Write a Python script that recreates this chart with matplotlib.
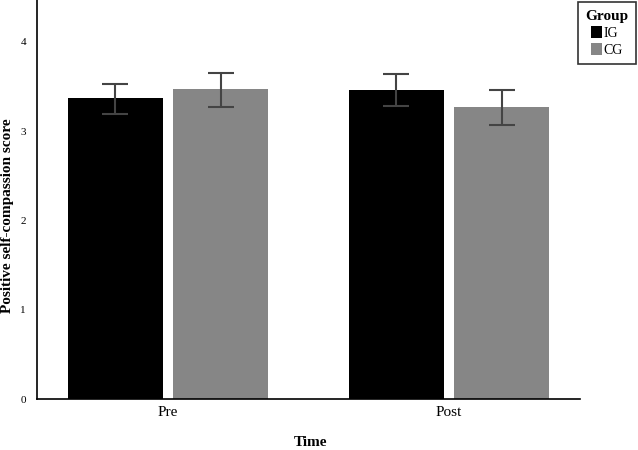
import matplotlib.pyplot as plt
import numpy as np

plt.rcParams['font.family'] = ['Liberation Serif', 'DejaVu Serif']

times = ['Pre', 'Post']
groups = ['IG', 'CG']
means = {'IG': [3.37, 3.46], 'CG': [3.47, 3.27]}
lower = {'IG': [3.19, 3.28], 'CG': [3.27, 3.07]}
upper = {'IG': [3.53, 3.64], 'CG': [3.65, 3.46]}
colors = {'IG': '#000000', 'CG': '#868686'}

fig = plt.figure(figsize=(6.38, 4.5), dpi=100)
ax = fig.add_axes([0.058, 0.1133, 0.851, 0.8867])

x = np.arange(len(times))
w = 0.338
gap = 0.036
offsets = {'IG': -(w + gap) / 2, 'CG': (w + gap) / 2}
for g in groups:
    m = np.array(means[g])
    err = [m - np.array(lower[g]), np.array(upper[g]) - m]
    ax.bar(x + offsets[g], m, width=w, color=colors[g], label=g, zorder=2)
    ax.errorbar(x + offsets[g], m, yerr=err, fmt='none', ecolor='#444444',
                elinewidth=1.5, capsize=9.5, capthick=1.5, zorder=3)

ax.set_xlim(-0.466, 1.466)
ax.set_ylim(0, 4.47)
ax.set_xticks(x)
ax.set_xticklabels(times, fontsize=11)
ax.set_yticks([0, 1, 2, 3, 4])
ax.tick_params(axis='y', length=0, labelsize=8, pad=8)
ax.tick_params(axis='x', length=0, pad=5)
ax.spines['top'].set_visible(False)
ax.spines['right'].set_visible(False)
ax.spines['left'].set_linewidth(1.2)
ax.spines['bottom'].set_linewidth(1.2)

# axis titles placed in figure coords
fig.text(310 / 638, 1 - 443 / 450, 'Time', fontsize=11, fontweight='bold',
         ha='center', va='center')
fig.text(8 / 638, 1 - 216 / 450, 'Positive self-compassion score', fontsize=11,
         fontweight='bold', rotation=90, ha='center', va='center')

leg = ax.legend(title='Group', loc='upper left', bbox_to_anchor=(578 / 638, 1 - 2 / 450),
                bbox_transform=fig.transFigure, frameon=True, fancybox=False,
                fontsize=10, title_fontproperties={'weight': 'bold', 'size': 11},
                handlelength=0.75, handleheight=0.9, handletextpad=0.15,
                borderaxespad=0, borderpad=0.55, labelspacing=0.25)
leg.get_frame().set_edgecolor('black')
leg.get_frame().set_linewidth(1.2)

fig.savefig('out.png', dpi=100)
